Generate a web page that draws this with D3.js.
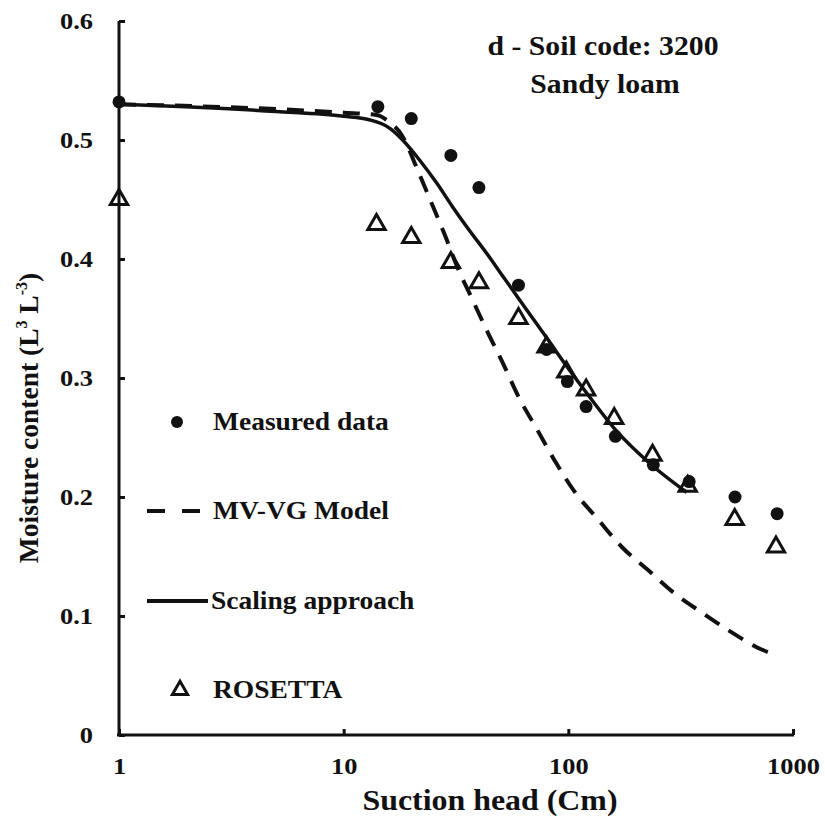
<!DOCTYPE html>
<html>
<head>
<meta charset="utf-8">
<script src="https://cdn.jsdelivr.net/npm/d3@7"></script>
<style>
  html, body { margin: 0; padding: 0; background: #fff; }
  svg text { font-family: "Liberation Serif", "Times New Roman", serif; font-weight: bold; fill: #111; }
</style>
</head>
<body>
<svg id="chart" width="825" height="820"></svg>
<script>
// ---- data ----
const measuredX = [1, 14.2, 20, 30, 40, 60, 80, 99, 120, 162, 239, 345, 552, 850];
const measuredY = [0.532, 0.528, 0.518, 0.487, 0.460, 0.378, 0.324, 0.297, 0.276, 0.251, 0.227, 0.213, 0.200, 0.186];

const rosettaX = [1, 14, 20, 30, 40, 60, 80, 98, 120, 160, 237, 340, 550, 840];
const rosettaY = [0.450, 0.429, 0.418, 0.397, 0.380, 0.350, 0.326, 0.305, 0.290, 0.266, 0.235, 0.209, 0.181, 0.158];

const mvvgX = [1, 5, 10, 14, 16, 18.3, 21.1, 24.6, 28.1, 32.1, 37.4, 43.6, 51, 60.5, 73, 88, 108, 133, 173, 225, 297, 392, 536, 742, 820];
const mvvgY = [0.530, 0.526, 0.523, 0.521, 0.515, 0.503, 0.477, 0.447, 0.421, 0.393, 0.366, 0.339, 0.313, 0.283, 0.256, 0.229, 0.203, 0.183, 0.158, 0.139, 0.119, 0.103, 0.086, 0.071, 0.068];

const scalingX = [1, 5, 10, 13, 16, 18.3, 21.8, 25.9, 30.5, 36.3, 43.2, 50.9, 60.5, 72, 82, 100, 120, 163, 228, 336];
const scalingY = [0.530, 0.524, 0.520, 0.517, 0.510, 0.500, 0.483, 0.464, 0.444, 0.424, 0.405, 0.386, 0.366, 0.346, 0.331, 0.308, 0.288, 0.256, 0.229, 0.204];

const xTicks = [1, 10, 100, 1000];
const yTicks = [0, 0.1, 0.2, 0.3, 0.4, 0.5, 0.6];
const legendLabels = ["Measured data", "MV-VG Model", "Scaling approach", "ROSETTA"];
const titleLines = ["d - Soil code: 3200", "Sandy loam"];

// ---- chart ----
const svg = d3.select("#chart");
const x = d3.scaleLog().domain([1, 1000]).range([119, 793]);
const y = d3.scaleLinear().domain([0, 0.6]).range([735, 21]);
const SX = 1.1; // horizontal text stretch

const zip = (xs, ys) => xs.map((v, i) => [v, ys[i]]);
const line = d3.line().x(d => x(d[0])).y(d => y(d[1])).curve(d3.curveMonotoneX);

// axes
const xAxis = d3.axisBottom(x).tickValues(xTicks).tickFormat(d3.format("d")).tickSizeInner(-6).tickSizeOuter(0).tickPadding(22);
const yAxis = d3.axisLeft(y).tickValues(yTicks).tickFormat(d => d === 0 ? "0" : d3.format(".1f")(d)).tickSizeInner(-6).tickSizeOuter(0);

const gx = svg.append("g").attr("transform", `translate(0,${y(0)})`).call(xAxis);
const gy = svg.append("g").attr("transform", `translate(${x(1)},0)`).call(yAxis);
[gx, gy].forEach(g => {
  g.select(".domain").attr("stroke", "#111").attr("stroke-width", 3);
  g.selectAll(".tick line").attr("stroke", "#111").attr("stroke-width", 3);
  g.selectAll(".tick text").style("font-size", "24px").attr("fill", "#111")
    .attr("transform", `scale(${SX},1)`);
});
gy.selectAll(".tick text").attr("x", -26 / SX);
gx.select(".domain").attr("d", `M${x(1)-2},0H${x(1000)+1}`);
gy.select(".domain").attr("d", `M0,${y(0)+1}V${y(0.6)}`);

// lines
svg.append("path").datum(zip(mvvgX, mvvgY)).attr("d", line)
  .attr("fill", "none").attr("stroke", "#111").attr("stroke-width", 4).attr("stroke-dasharray", "17,11");
svg.append("path").datum(zip(scalingX, scalingY)).attr("d", line)
  .attr("fill", "none").attr("stroke", "#111").attr("stroke-width", 3.5);

// markers
const tri = d3.symbol().type(d3.symbolTriangle).size(130);
svg.append("g").selectAll("path").data(zip(rosettaX, rosettaY)).join("path")
  .attr("d", tri).attr("transform", d => `translate(${x(d[0])},${y(d[1])})`)
  .attr("fill", "none").attr("stroke", "#111").attr("stroke-width", 3);
svg.append("g").selectAll("circle").data(zip(measuredX, measuredY)).join("circle")
  .attr("cx", d => x(d[0])).attr("cy", d => y(d[1])).attr("r", 6.5).attr("fill", "#111");

// legend
const lg = svg.append("g");
const legY = [422, 511, 601, 690];
lg.append("circle").attr("cx", 177).attr("cy", legY[0]).attr("r", 6).attr("fill", "#111");
lg.append("line").attr("x1", 147).attr("x2", 202).attr("y1", legY[1]).attr("y2", legY[1])
  .attr("stroke", "#111").attr("stroke-width", 4).attr("stroke-dasharray", "18,17");
lg.append("line").attr("x1", 147).attr("x2", 208).attr("y1", legY[2]).attr("y2", legY[2])
  .attr("stroke", "#111").attr("stroke-width", 4);
lg.append("path").attr("d", d3.symbol().type(d3.symbolTriangle).size(100))
  .attr("transform", `translate(180,${legY[3]})`)
  .attr("fill", "none").attr("stroke", "#111").attr("stroke-width", 3);
lg.selectAll("text").data(legendLabels).join("text")
  .attr("transform", (d, i) => `translate(${i === 2 ? 211 : 213},${legY[i] + 8}) scale(${SX},1)`)
  .style("font-size", "25px").text(d => d);

// title
svg.selectAll(".title").data(titleLines).join("text").attr("class", "title")
  .attr("transform", (d, i) => `translate(${i === 0 ? 603 : 605},${55 + i * 38}) scale(${SX},1)`)
  .attr("text-anchor", "middle")
  .style("font-size", "27px").text(d => d);

// axis titles
svg.append("text").attr("transform", `translate(490,810) scale(${SX},1)`).attr("text-anchor", "middle")
  .style("font-size", "29px").text("Suction head (Cm)");

const yt = svg.append("text").attr("transform", "translate(38,418) rotate(-90)")
  .attr("text-anchor", "middle").style("font-size", "27.5px");
yt.append("tspan").text("Moisture content (L");
yt.append("tspan").attr("dy", -11).style("font-size", "16px").text("3");
yt.append("tspan").attr("dy", 11).text(" L");
yt.append("tspan").attr("dy", -11).style("font-size", "16px").text("-3");
yt.append("tspan").attr("dy", 11).text(")");
</script>
</body>
</html>
